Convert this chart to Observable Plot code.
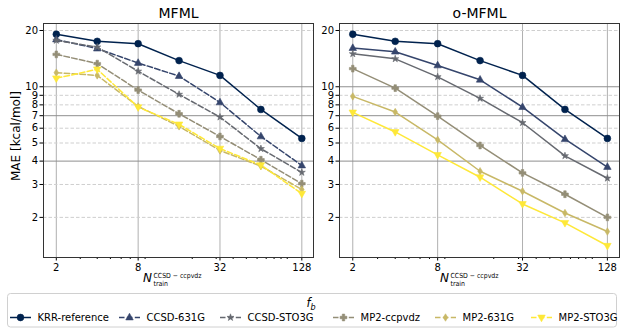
<!DOCTYPE html>
<html><head><meta charset="utf-8">
<script src="https://cdn.jsdelivr.net/npm/d3@7"></script>
<script src="https://cdn.jsdelivr.net/npm/@observablehq/plot@0.6"></script>
<style>
body{margin:0;background:#fff;font-family:"DejaVu Sans",sans-serif;}
#wrap{position:relative;width:623px;height:334px;overflow:hidden;background:#fff;}
#wrap > svg{position:absolute;top:0;}
</style></head><body><div id="wrap"></div>
<script>
// ---- data ----
const nTrain = [2, 4, 8, 16, 32, 64, 128];
const seriesNames = ["KRR-reference","CCSD-631G","CCSD-STO3G","MP2-ccpvdz","MP2-631G","MP2-STO3G"];
const krrReference   = [19.1, 17.5, 17.0, 13.8, 11.5, 7.56, 5.29];
const mfmlCCSD631G   = [17.9, 16.0, 13.4, 11.4, 8.24, 5.42, 3.79];
const mfmlCCSDSTO3G  = [17.7, 16.3, 12.1, 9.1, 6.88, 4.66, 3.48];
const mfmlMP2ccpvdz  = [14.9, 13.3, 9.59, 7.17, 5.42, 4.07, 3.03];
const mfmlMP2631G    = [11.9, 11.5, 7.85, 6.14, 4.56, 3.76, 2.82];
const mfmlMP2STO3G   = [11.1, 12.4, 7.78, 6.29, 4.67, 3.81, 2.68];
const omfmlCCSD631G  = [16.1, 15.4, 13.0, 10.9, 7.78, 5.24, 3.72];
const omfmlCCSDSTO3G = [15.0, 14.1, 11.3, 8.66, 6.42, 4.27, 3.24];
const omfmlMP2ccpvdz = [12.5, 9.83, 6.96, 4.85, 3.46, 2.66, 2.0];
const omfmlMP2631G   = [8.88, 7.32, 5.2, 3.53, 2.76, 2.11, 1.68];
const omfmlMP2STO3G  = [7.29, 5.73, 4.32, 3.28, 2.36, 1.87, 1.41];
const xTickLabels = [2, 8, 32, 128];
const xMinorTicks = [3,4,5,6,7,9,20,30,40,50,60,70,80,90,100];
const yTickLabels = [2,3,4,5,6,7,8,9,10,20];
const ySolidGrid = [4, 7, 10];
const yDashedGrid = [2,3,5,6,8,9,20];

// ---- styles ----
const colors = ["#00224e","#35456c","#666970","#948e77","#c8b866","#fee838"];
function poly(pts){return {draw(ctx,size){const r=Math.sqrt(size/Math.PI);ctx.moveTo(pts[0][0]*r,pts[0][1]*r);for(let k=1;k<pts.length;k++)ctx.lineTo(pts[k][0]*r,pts[k][1]*r);ctx.closePath();}};}
const triUp = poly([[0,-1.25],[1.1,0.7],[-1.1,0.7]]);
const triDown = poly([[0,1.25],[1.1,-0.7],[-1.1,-0.7]]);
const plusFilled = poly([[-0.36,-1],[0.36,-1],[0.36,-0.36],[1,-0.36],[1,0.36],[0.36,0.36],[0.36,1],[-0.36,1],[-0.36,0.36],[-1,0.36],[-1,-0.36],[-0.36,-0.36]]);
const thinDiamond = poly([[0,-1.1],[0.68,0],[0,1.1],[-0.68,0]]);
const star = {draw(ctx,size){d3.symbolStar.draw(ctx,size*0.42);}};
const symbols = [d3.symbolCircle, triUp, star, plusFilled, thinDiamond, triDown];

const wrap = document.getElementById("wrap");

function makePanel(title, series, dashed, left, width, ml, mr){
  const marks = [
    Plot.gridX(xTickLabels, {stroke:"#b0b0b0", strokeOpacity:1, strokeWidth:1}),
    Plot.gridY(yDashedGrid, {stroke:"#cfcfcf", strokeOpacity:1, strokeDasharray:"3.5,2"}),
    Plot.gridY(ySolidGrid, {stroke:"#8f8f8f", strokeOpacity:1, strokeWidth:1}),
    Plot.axisX(xMinorTicks, {tickSize:2, tickFormat:()=>"", label:null}),
    Plot.axisX(xTickLabels, {tickSize:3.5, tickPadding:2.5, label:null, tickFormat:d=>String(d), fontSize:10}),
    Plot.tickY(yTickLabels, {y:d=>d, frameAnchor:"left", dx:-3.5, stroke:"#000", strokeWidth:1, insetLeft:0}),
    Plot.axisY(yTickLabels, {tickSize:3.5, tickFormat:()=>"", label:null}),
    Plot.text(yTickLabels, {y:d=>d, text:d=>String(d), frameAnchor:"left", dx:-5.5, textAnchor:"end", fontSize:10, fill:"#000"})
  ];
  series.forEach((vals,i)=>{
    const rows = nTrain.map((n,j)=>({n, v: vals[j], s: seriesNames[i]}));
    const lo = {x:"n", y:"v", stroke:colors[i], strokeWidth:1.5};
    if (dashed && i>0) lo.strokeDasharray = "5.5,2.4";
    marks.push(Plot.line(rows, lo));
    marks.push(Plot.dot(rows, {x:"n", y:"v", symbol:symbols[i], r:3.4, fill:colors[i], stroke:colors[i], strokeWidth:0.6}));
  });
  marks.push(Plot.frame({stroke:"#333", strokeWidth:1}));
  marks.push(Plot.text([title], {text:d=>d, frameAnchor:"top", dy:-6, lineAnchor:"bottom", fontSize:14, fill:"#000"}));
  // drop the tickY helper (axisY draws the tick marks)
  marks.splice(5,1);
  const svg = Plot.plot({
    width, height:292,
    marginLeft:ml, marginRight:mr, marginTop:23, marginBottom:35,
    x:{type:"log", base:2, domain:[1.61,156]},
    y:{type:"log", domain:[1.22,21.8]},
    style:{fontFamily:"DejaVu Sans", fontSize:"10px", overflow:"visible", background:"transparent", color:"#000"},
    marks
  });
  svg.style.left = left + "px";
  wrap.appendChild(svg);
}

makePanel("MFML", [krrReference, mfmlCCSD631G, mfmlCCSDSTO3G, mfmlMP2ccpvdz, mfmlMP2631G, mfmlMP2STO3G], true, 0, 318, 43, 5);
makePanel("o-MFML", [krrReference, omfmlCCSD631G, omfmlCCSDSTO3G, omfmlMP2ccpvdz, omfmlMP2631G, omfmlMP2STO3G], false, 310, 313, 29, 4);

// ---- overlay: axis titles & legend ----
const ov = d3.select(wrap).append("svg").attr("width",623).attr("height",334)
  .style("left","0px").style("font-family","DejaVu Sans");
ov.append("text").attr("transform","translate(16,136) rotate(-90)")
  .attr("text-anchor","middle").attr("dominant-baseline","middle")
  .attr("font-size",12).text("MAE [kcal/mol]");
[143, 440].forEach(x0=>{
  ov.append("text").attr("x",x0).attr("y",282).attr("font-style","italic").attr("font-size",12).text("N");
  ov.append("text").attr("x",x0+10.5).attr("y",278).attr("font-size",7)
    .attr("textLength",48).attr("lengthAdjust","spacingAndGlyphs").text("CCSD \u2212 ccpvdz");
  ov.append("text").attr("x",x0+10.5).attr("y",285.5).attr("font-size",7)
    .attr("textLength",14.5).attr("lengthAdjust","spacingAndGlyphs").text("train");
});
ov.append("rect").attr("x",7.5).attr("y",293.5).attr("width",609).attr("height",33.5)
  .attr("rx",3).attr("fill","#fff").attr("stroke","#d0d0d0");
ov.append("text").attr("x",306.5).attr("y",307).attr("font-size",11.5).attr("font-style","italic").text("f");
ov.append("text").attr("x",310.5).attr("y",309.5).attr("font-size",8).attr("font-style","italic").text("b");
const legX = [10,119,220,333,435,531];
seriesNames.forEach((name,i)=>{
  const x0 = legX[i], y0 = 317.5;
  const ln = ov.append("line").attr("x1",x0).attr("x2",x0+21).attr("y1",y0).attr("y2",y0)
    .attr("stroke",colors[i]).attr("stroke-width",1.5);
  if(i>0) ln.attr("stroke-dasharray","5.5,2.4");
  ov.append("path").attr("d", d3.symbol().type(symbols[i]).size(Math.PI*3.4*3.4)())
    .attr("transform",`translate(${x0+10.5},${y0})`).attr("fill",colors[i]).attr("stroke",colors[i]).attr("stroke-width",0.6);
  ov.append("text").attr("x",x0+27.5).attr("y",y0).attr("dominant-baseline","middle")
    .attr("font-size",10).text(name);
});
</script>
</body></html>
